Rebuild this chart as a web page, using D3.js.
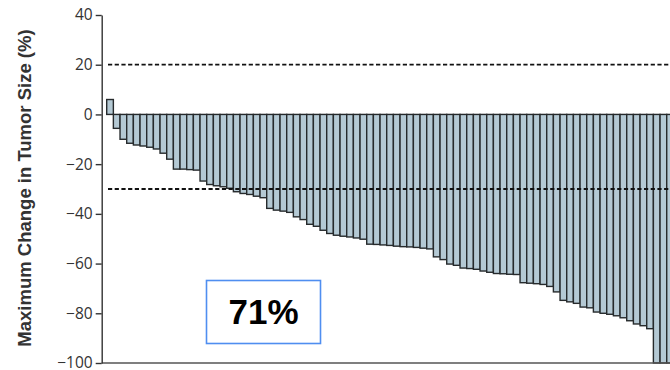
<!DOCTYPE html>
<html>
<head>
<meta charset="utf-8">
<script src="https://cdn.jsdelivr.net/npm/d3@7"></script>
<style>
  html, body { margin: 0; padding: 0; background: #fff; }
  svg { display: block; }
</style>
</head>
<body>
<svg id="chart" width="670" height="370"></svg>
<script>
// Best percentage change from baseline, one value per patient, sorted
const patients = d3.range(1, 86);
const changes = [
  6, -5.6, -10, -11.6, -12.3, -12.7, -13.2, -13.9, -15.6, -18,
  -22, -22, -22.2, -22.4, -26.8, -28.2, -28.7, -29.1, -29.7, -31.1,
  -31.8, -32.2, -32.9, -33.5, -37.8, -38.5, -38.9, -39.4, -41.2, -42.3,
  -44.2, -45, -46.6, -47.9, -48.6, -49, -49.3, -49.7, -50.2, -52.2,
  -52.3, -52.5, -52.7, -53, -53.2, -53.3, -53.5, -53.8, -54.1, -57.3,
  -58.4, -60.2, -60.7, -61.8, -62, -62.3, -63, -63.5, -64, -64.1,
  -64.3, -64.4, -67.7, -67.9, -68.1, -68.4, -69.2, -71.4, -74.8, -75.4,
  -76, -77.5, -77.8, -79.5, -80, -80.4, -81, -81.8, -83, -84.3,
  -85, -86.2, -100, -100, -100
];
const yTicks = [40, 20, 0, -20, -40, -60, -80, -100];
const thresholds = [20, -30];
const responseLabel = "71%";
const yTitle = "Maximum Change in Tumor Size (%)";

const svg = d3.select("#chart");

const barStep = 6.667;
const x = d3.scaleBand()
  .domain(patients)
  .range([106.7, 106.7 + patients.length * barStep])
  .padding(0);

const y = d3.scaleLinear()
  .domain([-100, 40])
  .range([363, 15]);

// bars
svg.append("g")
  .selectAll("rect")
  .data(changes)
  .join("rect")
  .attr("x", (d, i) => x(patients[i]))
  .attr("width", x.bandwidth())
  .attr("y", d => y(Math.max(0, d)))
  .attr("height", d => Math.abs(y(d) - y(0)))
  .attr("fill", "#b4c9d4")
  .attr("stroke", "#262a2c")
  .attr("stroke-width", 1.4);

// reference lines at +20% and -30%
svg.append("g")
  .selectAll("line")
  .data(thresholds)
  .join("line")
  .attr("x1", 108)
  .attr("x2", 670)
  .attr("y1", d => y(d))
  .attr("y2", d => y(d))
  .attr("stroke", "#111")
  .attr("stroke-width", 1.8)
  .attr("stroke-dasharray", "4.2,2.5");

// bottom frame line
svg.append("line")
  .attr("x1", 101.7)
  .attr("x2", 670)
  .attr("y1", y(-100))
  .attr("y2", y(-100))
  .attr("stroke", "#555")
  .attr("stroke-width", 1.5);

// y axis
const yAxis = svg.append("g")
  .attr("transform", "translate(101.7,0)")
  .call(d3.axisLeft(y).tickValues(yTicks).tickSize(6).tickSizeOuter(0).tickPadding(3));
yAxis.select(".domain").attr("stroke", "#333").attr("stroke-width", 1.4);
yAxis.selectAll(".tick line").attr("stroke", "#333").attr("stroke-width", 1.4);
yAxis.selectAll(".tick text")
  .attr("fill", "#333")
  .style("font-family", "'Open Sans', 'Noto Sans', sans-serif")
  .style("font-size", "15.5px");

// y axis title
svg.append("text")
  .attr("transform", "translate(30.5,188) rotate(-90)")
  .attr("text-anchor", "middle")
  .style("font-family", "'Liberation Sans', Arial, sans-serif")
  .style("font-weight", "bold")
  .style("font-size", "18.5px")
  .attr("fill", "#333")
  .text(yTitle);

// response rate callout
svg.append("rect")
  .attr("x", 206.5)
  .attr("y", 280.5)
  .attr("width", 114)
  .attr("height", 63)
  .attr("fill", "#fff")
  .attr("stroke", "#4f8ef0")
  .attr("stroke-width", 1.6);

svg.append("text")
  .attr("x", 263.5)
  .attr("y", 323.5)
  .attr("text-anchor", "middle")
  .style("font-family", "'Liberation Sans', Arial, sans-serif")
  .style("font-weight", "bold")
  .style("font-size", "35px")
  .attr("fill", "#000")
  .text(responseLabel);
</script>
</body>
</html>
